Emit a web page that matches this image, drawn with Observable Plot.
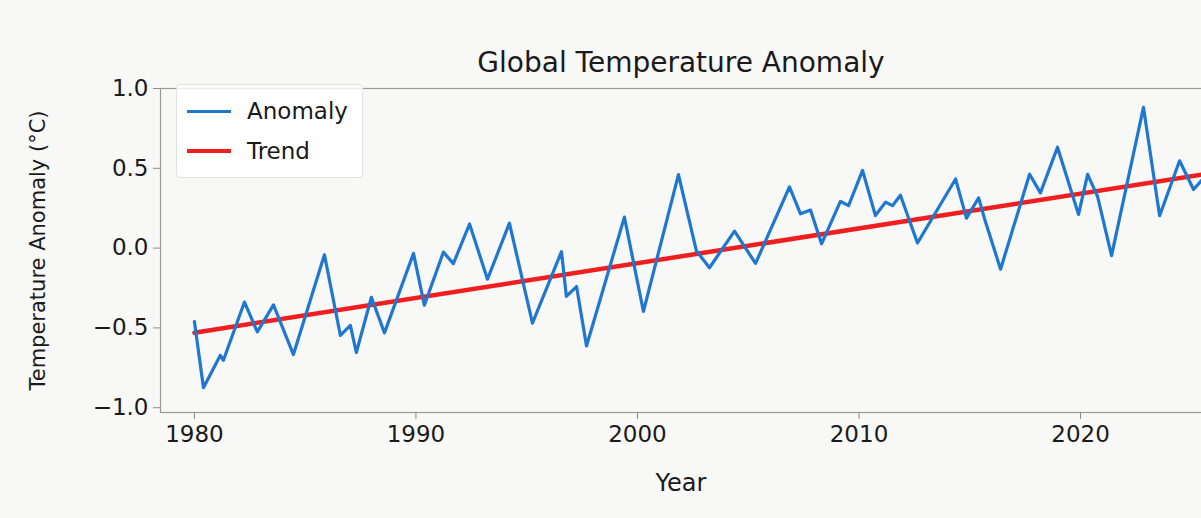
<!DOCTYPE html>
<html>
<head>
<meta charset="utf-8">
<script src="https://cdn.jsdelivr.net/npm/d3@7"></script>
<script src="https://cdn.jsdelivr.net/npm/@observablehq/plot@0.6"></script>
<style>
  html, body { margin: 0; padding: 0; background: #f8f8f7; overflow: hidden; }
  #wrap { position: relative; width: 1201px; height: 518px; font-family: "DejaVu Sans", sans-serif; }
  #legend { position: absolute; left: 176px; top: 84px; padding: 6px 14px 6px 10px;
            border: 1px solid #e2e2e2; border-radius: 4px; background: rgba(255,255,255,0.8);
            font-size: 23px; color: #1a1a1a; }
  #legend .row { display: flex; align-items: center; height: 40px; }
  #legend .sw { width: 44px; margin-right: 16px; }
</style>
</head>
<body>
<div id="wrap"><div id="legend"></div></div>
<script>
// Anomaly line vertices (year, °C)
const years = [1980.0, 1980.41, 1981.17, 1981.31, 1982.26, 1982.84, 1983.57, 1984.47, 1985.87, 1986.59,
  1987.04, 1987.31, 1987.99, 1988.58, 1989.89, 1990.38, 1991.24, 1991.69, 1992.42, 1993.23,
  1994.22, 1995.26, 1996.57, 1996.79, 1997.25, 1997.70, 1999.41, 2000.27, 2001.85, 2002.66,
  2003.25, 2004.38, 2005.33, 2006.86, 2007.36, 2007.81, 2008.31, 2009.16, 2009.53, 2010.16,
  2010.74, 2011.20, 2011.51, 2011.87, 2012.64, 2014.36, 2014.85, 2015.40, 2015.67, 2016.39,
  2017.70, 2018.19, 2018.96, 2019.91, 2020.32, 2020.77, 2021.40, 2022.84, 2023.57, 2024.47,
  2025.10, 2025.46];
const anomaly = [-0.46, -0.875, -0.672, -0.703, -0.338, -0.525, -0.356, -0.667, -0.042, -0.547,
  -0.484, -0.654, -0.308, -0.531, -0.033, -0.358, -0.025, -0.097, 0.151, -0.195,
  0.156, -0.470, -0.022, -0.302, -0.241, -0.613, 0.194, -0.397, 0.461, -0.017,
  -0.123, 0.106, -0.096, 0.383, 0.215, 0.238, 0.027, 0.293, 0.266, 0.487,
  0.204, 0.288, 0.266, 0.331, 0.032, 0.433, 0.188, 0.315, 0.183, -0.132,
  0.463, 0.346, 0.632, 0.211, 0.462, 0.322, -0.047, 0.882, 0.203, 0.547,
  0.367, 0.424];

// Trend line end points
const trendYears = [1980.0, 2025.46];
const trendValues = [-0.53, 0.46];

// Ticks
const xTicks = [1980, 1990, 2000, 2010, 2020];
const yTicks = [-1.0, -0.5, 0.0, 0.5, 1.0];

const titleText = "Global Temperature Anomaly";
const xLabel = "Year";
const yLabel = "Temperature Anomaly (°C)";
const seriesNames = ["Anomaly", "Trend"];
const seriesColors = ["#1f77d0", "#f01e1e"];

const anomalyData = years.map((y, i) => ({year: y, value: anomaly[i]}));
const trendData = trendYears.map((y, i) => ({year: y, value: trendValues[i]}));

const font = "DejaVu Sans, sans-serif";

const chart = Plot.plot({
  width: 1201,
  height: 518,
  marginLeft: 160,
  marginRight: 0,
  marginTop: 88,
  marginBottom: 106,
  style: {fontFamily: font, background: "transparent", color: "#1a1a1a", overflow: "visible"},
  x: {domain: [1978.47, 2025.46]},
  y: {domain: [-1.03, 1.0]},
  marks: [
    Plot.frame({stroke: "#9a9a9a", strokeWidth: 1.2, insetRight: -4}),
    Plot.axisX({ticks: xTicks, tickFormat: d => String(d), tickSize: 7, tickPadding: 6,
                fontSize: 23, label: null, stroke: "#8a8a8a"}),
    Plot.axisY({ticks: yTicks, tickFormat: d3.format(".1f"), tickSize: 7, tickPadding: 5,
                fontSize: 23, label: null, stroke: "#8a8a8a"}),
    Plot.line(trendData, {x: "year", y: "value", stroke: seriesColors[1], strokeWidth: 4.5}),
    Plot.line(anomalyData, {x: "year", y: "value", stroke: seriesColors[0], strokeWidth: 3.2,
                            clip: true}),
    Plot.text([titleText], {frameAnchor: "top", dy: -36, fontSize: 28, fill: "#1a1a1a"}),
    Plot.text([xLabel], {frameAnchor: "bottom", dy: 78, fontSize: 24, fill: "#1a1a1a"}),
    Plot.text([yLabel], {frameAnchor: "left", dx: -122, rotate: -90, textAnchor: "middle",
                         lineAnchor: "middle", fontSize: 21, fill: "#1a1a1a"})
  ]
});

const wrap = document.getElementById("wrap");
chart.style.position = "absolute";
chart.style.left = "0";
chart.style.top = "0";
wrap.insertBefore(chart, wrap.firstChild);

const legend = document.getElementById("legend");
seriesNames.forEach((name, i) => {
  const row = document.createElement("div");
  row.className = "row";
  const sw = document.createElement("div");
  sw.className = "sw";
  sw.style.borderTop = (i === 0 ? 3 : 4) + "px solid " + seriesColors[i];
  const label = document.createElement("span");
  label.textContent = name;
  row.appendChild(sw);
  row.appendChild(label);
  legend.appendChild(row);
});
</script>
</body>
</html>
